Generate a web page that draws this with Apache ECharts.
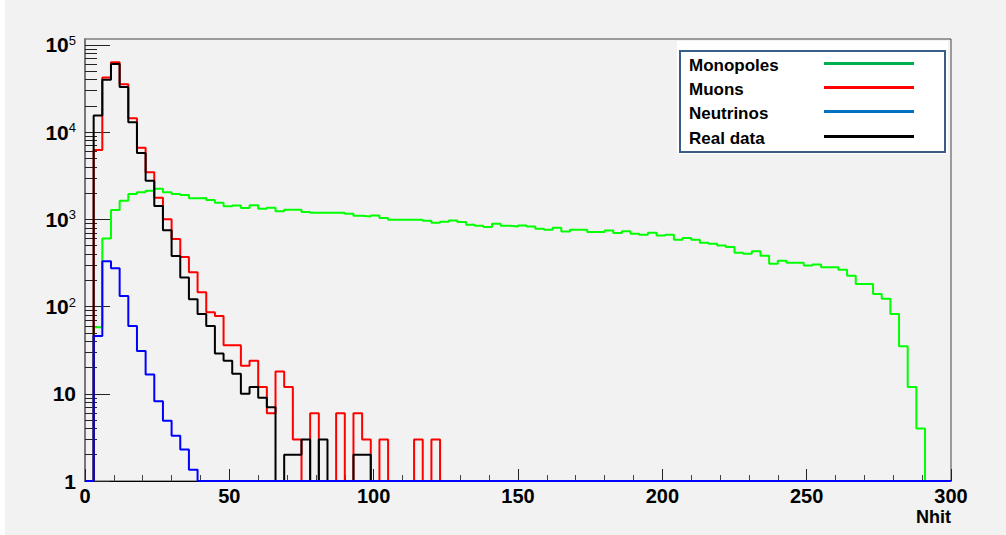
<!DOCTYPE html>
<html>
<head>
<meta charset="utf-8">
<script src="https://cdn.jsdelivr.net/npm/echarts@6/dist/echarts.min.js"></script>
<style>
  html, body { margin: 0; padding: 0; background: #ffffff; }
  #nhitChart { width: 1006px; height: 535px; }
</style>
</head>
<body>
<div id="nhitChart"></div>
<script>
// bins of width 3 in Nhit, from 0 to 300 (index i -> [3i, 3i+3))
var binWidth = 3;
var monopoles = [0, 58, 605, 1280, 1640, 1950, 2050, 2130, 2240, 2040,
    1950, 1900, 1750, 1760, 1670, 1550, 1410, 1445, 1350, 1450,
    1320, 1355, 1235, 1290, 1290, 1215, 1190, 1190, 1190, 1190,
    1160, 1100, 1080, 1110, 1040, 990, 990, 990, 990, 963,
    914, 938, 973, 930, 867, 844, 815, 890, 844, 830,
    850, 830, 780, 760, 800, 728, 760, 760, 718, 718,
    744, 698, 730, 683, 668, 701, 652, 665, 583, 610,
    583, 538, 525, 502, 481, 415, 403, 430, 382, 309,
    335, 318, 318, 296, 304, 283, 283, 264, 225, 182,
    182, 139, 123, 82, 35, 12, 4, 0, 0, 0];
var muons = [0, 6240, 42200, 63400, 35500, 14400, 6630, 3460, 1770, 1000,
    595, 370, 248, 146, 86, 78, 36, 36, 21, 24,
    12, 6, 18, 12, 3, 0, 6, 0, 0, 6,
    0, 6, 3, 0, 3, 0, 0, 0, 3, 0,
    3];
var neutrinos = [0, 46, 330, 276, 132, 60, 31, 16.6, 8.2, 4.9,
    3.3, 2.3, 1.35];
var realData = [0, 15500, 40000, 60500, 33000, 13000, 5750, 2780, 1420, 750,
    380, 216, 121, 82, 60, 29, 24, 17, 10, 12,
    9, 7, 0, 2, 2, 3, 0, 3, 0, 0,
    0, 2, 2];

// axis ticks
var yDecades = [1, 10, 100, 1000, 10000, 100000];
var yMinor = [];
yDecades.slice(0, 5).forEach(function (d) {
    for (var m = 2; m <= 9; m++) yMinor.push(m * d);
});

var legendNames = ['Monopoles', 'Muons', 'Neutrinos', 'Real data'];
var legendColors = ['#00b050', '#ff0000', '#0070c0', '#000000'];

// histogram -> step points, empty bins sit on the axis floor (1)
function toSteps(counts) {
    var pts = [];
    for (var i = 0; i < 100; i++) {
        var v = counts[i] || 0;
        pts.push([i * binWidth, Math.max(v, 1)]);
    }
    pts.push([300, 1]);
    return pts;
}

function histSeries(name, counts, color) {
    return {
        name: name,
        type: 'line',
        step: 'end',
        symbol: 'none',
        data: toSteps(counts),
        lineStyle: { color: color, width: 2 },
        itemStyle: { color: color },
        silent: true
    };
}

function legendBox() {
    var items = [
        { type: 'rect', shape: { x: 677, y: 41, width: 271, height: 113 }, style: { fill: '#ffffff' } },
        { type: 'rect', shape: { x: 680, y: 51, width: 265, height: 101 }, style: { fill: '#ffffff', stroke: '#385d8a', lineWidth: 2 } }
    ];
    var rows = [65, 89, 113, 138];
    legendNames.forEach(function (n, i) {
        items.push({
            type: 'text', x: 689, y: rows[i],
            style: { text: n, fill: '#000', font: 'bold 17px "Liberation Sans", Arial, sans-serif', verticalAlign: 'middle' }
        });
        items.push({
            type: 'line', shape: { x1: 824, y1: rows[i] - 1.5, x2: 914, y2: rows[i] - 1.5 },
            style: { stroke: legendColors[i], lineWidth: 3 }
        });
    });
    return items;
}

var myChart = echarts.init(document.getElementById('nhitChart'), null, { renderer: 'svg' });

var option = {
    animation: false,
    backgroundColor: '#f2f2f2',
    textStyle: { fontFamily: '"Liberation Sans", Arial, sans-serif' },
    grid: {
        left: 85, top: 39, right: 55, bottom: 54,
        show: true, borderColor: '#444', borderWidth: 1, backgroundColor: 'transparent'
    },
    xAxis: {
        type: 'value',
        min: 0, max: 300, interval: 50,
        name: 'Nhit',
        nameLocation: 'end',
        nameGap: 0,
        nameTextStyle: { color: '#000', fontSize: 18, fontWeight: 'bold', align: 'right', verticalAlign: 'top', padding: [27, 0, 0, 0] },
        axisLine: { lineStyle: { color: '#000', width: 1 } },
        axisTick: { inside: true, length: 12, lineStyle: { color: '#222' } },
        minorTick: { show: true, splitNumber: 5, length: 6, lineStyle: { color: '#444' } },
        axisLabel: { color: '#000', fontSize: 20, fontWeight: 'bold', margin: 5 },
        splitLine: { show: false }
    },
    yAxis: [{
        type: 'log',
        logBase: 10,
        min: 1, max: 117000,
        axisLine: { show: true, lineStyle: { color: '#777', width: 2 } },
        axisTick: { inside: true, length: 25, customValues: yDecades, lineStyle: { color: '#222' } },
        axisLabel: {
            customValues: yDecades,
            margin: 9,
            formatter: function (v) {
                if (v < 5) return '{b|1}';
                var e = Math.round(Math.log10(v));
                if (e === 1) return '{b|10}';
                return '{b|10}{s|' + e + '}';
            },
            rich: {
                b: { fontSize: 21, fontWeight: 'bold', color: '#000', lineHeight: 22 },
                s: { fontSize: 13, color: '#000', verticalAlign: 'top', lineHeight: 13 }
            }
        },
        splitLine: { show: false }
    }, {
        type: 'log',
        logBase: 10,
        min: 1, max: 117000,
        position: 'left',
        axisLine: { show: false },
        axisTick: { inside: true, length: 12, customValues: yMinor, lineStyle: { color: '#222' } },
        axisLabel: { show: false },
        splitLine: { show: false }
    }],
    series: [
        histSeries('Monopoles', monopoles, '#00ff00'),
        histSeries('Muons', muons, '#ff0000'),
        histSeries('Real data', realData, '#000000'),
        histSeries('Neutrinos', neutrinos, '#0000ff')
    ],
    graphic: [
        { type: 'rect', shape: { x: 0, y: 0, width: 5, height: 535 }, style: { fill: '#ffffff' } }
    ].concat(legendBox())
};

myChart.setOption(option);
</script>
</body>
</html>
